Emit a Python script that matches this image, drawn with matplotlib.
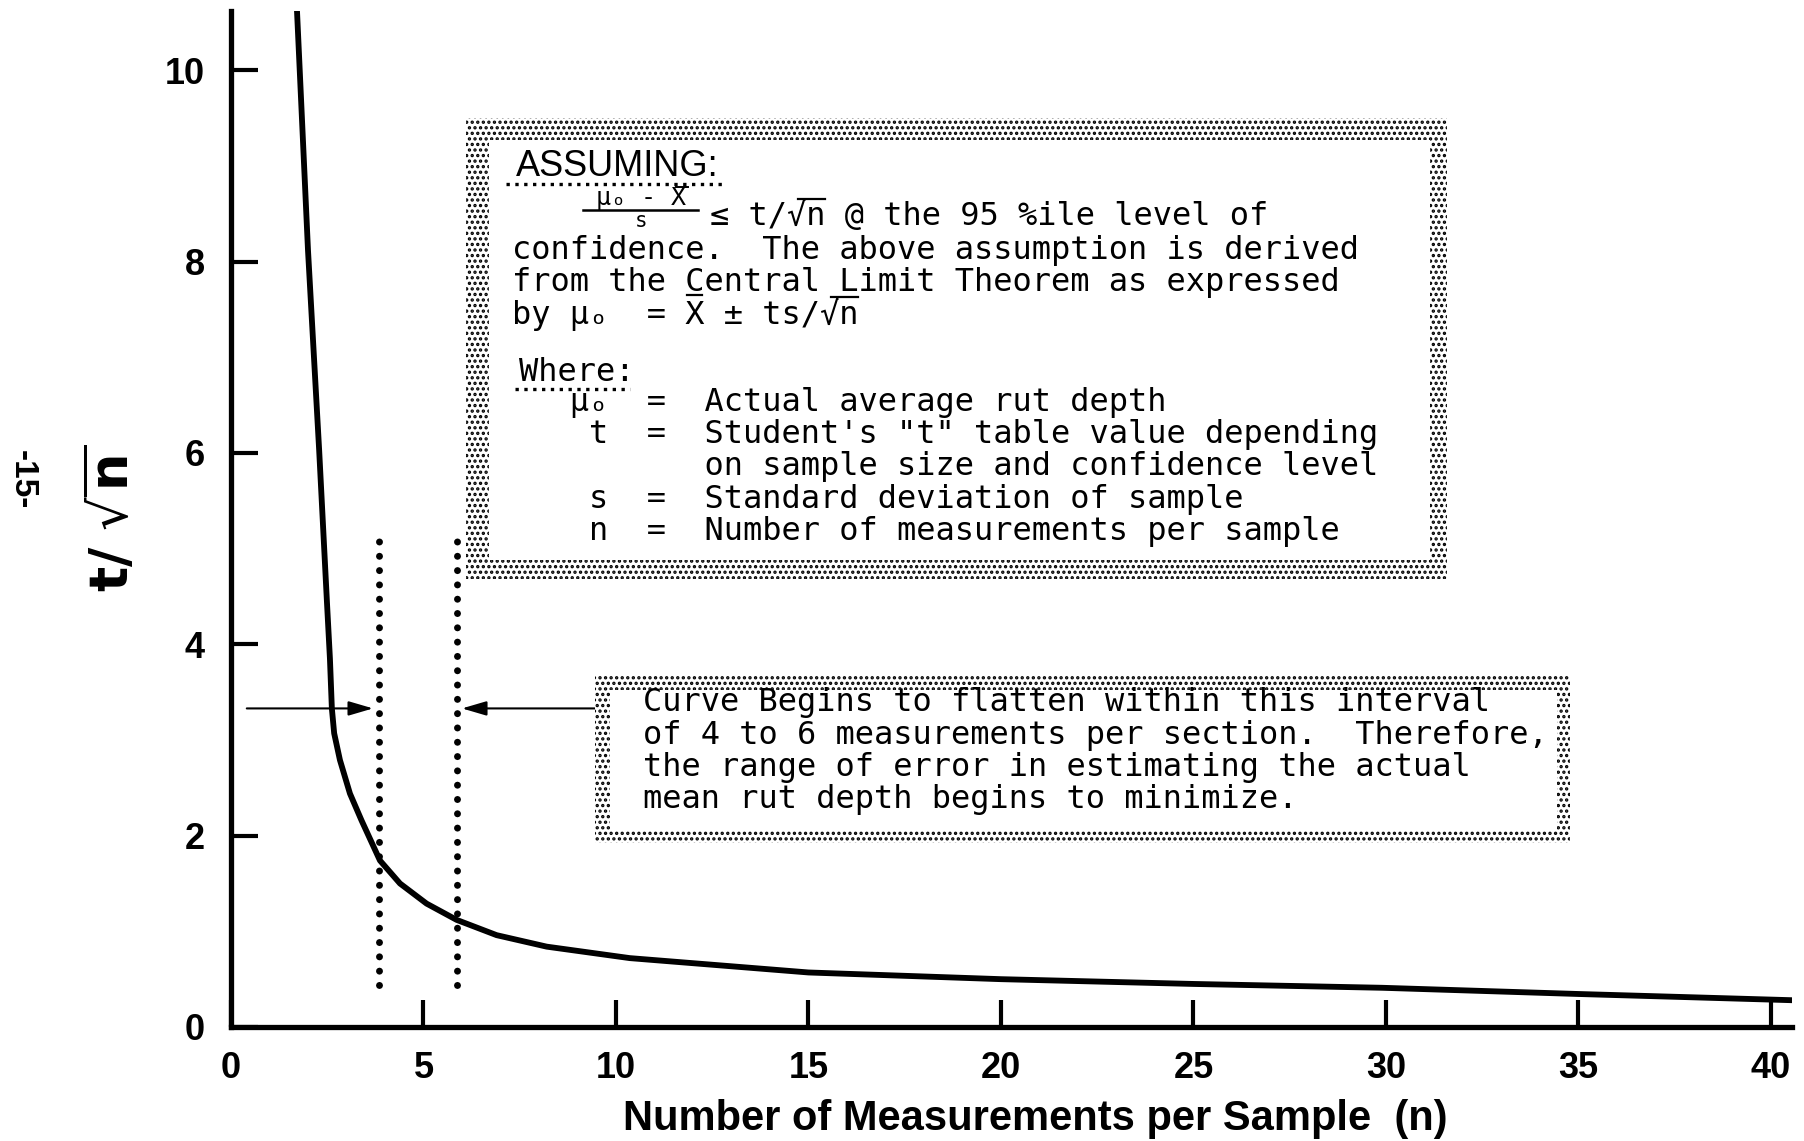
import matplotlib
matplotlib.use('Agg')
import matplotlib.pyplot as plt
from matplotlib.patches import Rectangle
from matplotlib.lines import Line2D

# hand drawn curve
n_vals = [1.71, 2.00, 2.29, 2.49, 2.57, 2.62, 2.68, 2.83, 3.09, 3.39, 3.87, 4.39,
          5.08, 5.86, 6.90, 8.20, 10.36, 15.0, 20.0, 25.0, 29.9, 35.0, 38.0, 40.55]
ratio_vals = [10.66, 8.12, 6.03, 4.46, 3.85, 3.33, 3.07, 2.79, 2.44, 2.16, 1.74, 1.50,
              1.29, 1.12, 0.96, 0.84, 0.72, 0.57, 0.50, 0.45, 0.41, 0.345, 0.31, 0.28]

# dotted lines marking the 4 to 6 interval
interval_n = [3.84, 5.86]
interval_low = 0.44
interval_high = 5.14
arrow_y = 3.33

x_ticks = [0, 5, 10, 15, 20, 25, 30, 35, 40]
y_ticks = [0, 2, 4, 6, 8, 10]

first_line = "\u2264 t/\u221an @ the 95 %ile level of"
box1_lines = [
    "confidence.  The above assumption is derived",
    "from the Central Limit Theorem as expressed",
    "by \u03bc\u2092  = X \u00b1 ts/\u221an",
]
where_lines = [
    "   \u03bc\u2092  =  Actual average rut depth",
    "    t  =  Student's \"t\" table value depending",
    "          on sample size and confidence level",
    "    s  =  Standard deviation of sample",
    "    n  =  Number of measurements per sample",
]
box2_lines = [
    "Curve Begins to flatten within this interval",
    "of 4 to 6 measurements per section.  Therefore,",
    "the range of error in estimating the actual",
    "mean rut depth begins to minimize.",
]

W, H = 1804, 1141
plt.rcParams['font.family'] = ['Liberation Sans', 'DejaVu Sans']
plt.rcParams['mathtext.fontset'] = 'dejavusans'
plt.rcParams['hatch.linewidth'] = 1.6
MONO = ['DejaVu Sans Mono', 'DejaVu Sans']
CW = 0.602 * 23 * 100 / 72   # char width of the mono font in px

fig = plt.figure(figsize=(W / 100, H / 100), dpi=100)
ax = fig.add_axes([231 / W, 1 - 1027 / H, 1561 / W, 1016 / H])

ax.plot(n_vals, ratio_vals, color='black', lw=4.2, solid_joinstyle='round')
for xv in interval_n:
    ax.plot([xv, xv], [interval_low, interval_high], color='black', lw=5.0,
            linestyle=(0, (0.01, 2.05)), dash_capstyle='round')

arrow = dict(arrowstyle='-|>,head_length=0.75,head_width=0.22', lw=1.5, color='black',
             shrinkA=0, shrinkB=0, mutation_scale=20)
ax.annotate('', xy=(3.69, arrow_y), xytext=(0.41, arrow_y), arrowprops=arrow)
ax.annotate('', xy=(6.0, arrow_y), xytext=(9.53, arrow_y), arrowprops=arrow)

ax.set_xlim(0, 40.55)
ax.set_ylim(0, 10.62)
ax.spines['top'].set_visible(False)
ax.spines['right'].set_visible(False)
for s in ['left', 'bottom']:
    ax.spines[s].set_linewidth(3.8)
    ax.spines[s].set_capstyle('projecting')
ax.set_xticks(x_ticks)
ax.set_yticks(y_ticks)
ax.tick_params(direction='in', length=19.5, width=3, labelsize=26)
ax.tick_params(axis='x', pad=17)
ax.tick_params(axis='y', pad=19)
for lab in ax.get_xticklabels() + ax.get_yticklabels():
    lab.set_fontweight('bold')

fig.text(1035 / W, 1 - 1119 / H, 'Number of Measurements per Sample  (n)', fontsize=30,
         fontweight='bold', ha='center', va='center')
fig.text(112 / W, 1 - 518 / H, r'$\mathbf{t/\ \sqrt{n}}$', fontsize=38, rotation=90,
         ha='center', va='center')
fig.text(22 / W, 1 - 480 / H, '-15-', fontsize=24, fontweight='bold', rotation=270,
         ha='center', va='center')


def hline(x0, x1, y, lw=1.6, ls='-'):
    fig.add_artist(Line2D([x0 / W, x1 / W], [1 - y / H, 1 - y / H], transform=fig.transFigure,
                          color='black', lw=lw, linestyle=ls, zorder=5))


def stipple_box(x0, y0, x1, y1, ix0, iy0, ix1, iy1):
    fig.add_artist(Rectangle((x0 / W, 1 - y1 / H), (x1 - x0) / W, (y1 - y0) / H,
                             transform=fig.transFigure, facecolor='white', edgecolor='black',
                             hatch='...', lw=0, zorder=2))
    fig.add_artist(Rectangle((ix0 / W, 1 - iy1 / H), (ix1 - ix0) / W, (iy1 - iy0) / H,
                             transform=fig.transFigure, facecolor='white', lw=0, zorder=3))


def mono(x, y, s, size=23, ha='left', va='center'):
    fig.text(x / W, 1 - y / H, s, family=MONO, fontsize=size, ha=ha, va=va, zorder=6)


stipple_box(466, 118, 1447, 579, 489, 140, 1430, 560)
stipple_box(595, 675, 1570, 843, 610, 690, 1557, 831)

# assumption box
fig.text(516 / W, 1 - 166 / H, 'ASSUMING:', fontsize=26, ha='left', va='center', zorder=6)
hline(506, 722, 184, lw=2.4, ls=':')
mono(641, 205, '\u03bc\u2092 - X', size=18, ha='center', va='baseline')
hline(676, 688, 187, lw=1.4)
hline(583, 698, 210, lw=1.8)
mono(641, 227, 's', size=15, ha='center', va='baseline')

L = 512
mono(710, 216, first_line)
hline(710 + 4.6 * CW, 710 + 6 * CW, 216 - 17)
for i, s in enumerate(box1_lines):
    mono(L, 251 + i * 31.5, s)
hline(L + 9.1 * CW, L + 9.9 * CW, 314 - 19)
hline(L + 16.6 * CW, L + 18 * CW, 314 - 17)

mono(519, 372, 'Where:')
hline(515, 630, 389, lw=2.4, ls=':')
for i, s in enumerate(where_lines):
    mono(L, 402 + i * 32.4, s)

for i, s in enumerate(box2_lines):
    mono(643, 703 + i * 32.3, s)

fig.savefig('out.png', dpi=100)
